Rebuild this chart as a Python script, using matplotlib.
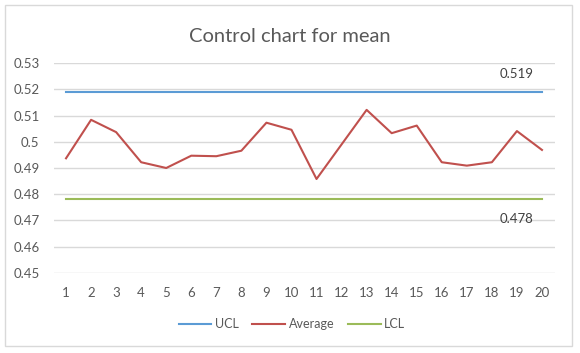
import numpy as np
import matplotlib.pyplot as plt
from matplotlib.patches import Rectangle

# DATA
samples = list(range(1, 21))
average = [0.4937, 0.5084, 0.5037, 0.4922, 0.4900, 0.4947, 0.4945, 0.4966, 0.5073, 0.5046,
           0.4858, 0.4990, 0.5122, 0.5033, 0.5062, 0.4922, 0.4909, 0.4922, 0.5041, 0.4969]
ucl_value = 0.519
lcl_value = 0.478
ucl = [ucl_value] * len(samples)
lcl = [lcl_value] * len(samples)
yticks = [0.45, 0.46, 0.47, 0.48, 0.49, 0.5, 0.51, 0.52, 0.53]
ytick_labels = ['0.45', '0.46', '0.47', '0.48', '0.49', '0.5', '0.51', '0.52', '0.53']

plt.rcParams['font.family'] = ['Lato', 'DejaVu Sans']
txt = '#595959'

# PLOT
fig = plt.figure(figsize=(5.8, 3.53), dpi=100)
fig.patches.append(Rectangle((5/580, 1 - 346/353), 567/580, 341/353, transform=fig.transFigure,
                             fill=False, edgecolor='#D9D9D9', linewidth=1))
ax = fig.add_axes([53.5/580, 1 - 273/353, 501/580, 210/353])

ax.plot(samples, ucl, color='#5B9BD5', lw=1.5, label='UCL')
ax.plot(samples, average, color='#C0504D', lw=1.5, label='Average')
ax.plot(samples, lcl, color='#9BBB59', lw=1.5, label='LCL')

ax.text(samples[-2], ucl_value + 0.007, f'{ucl_value:.3f}', ha='center', va='center', color='#404040', fontsize=9.5)
ax.text(samples[-2], lcl_value - 0.0075, f'{lcl_value:.3f}', ha='center', va='center', color='#404040', fontsize=9.5)

ax.set_xlim(0.5, 20.5)
ax.set_ylim(0.4499, 0.5301)
ax.set_xticks(samples)
ax.set_yticks(yticks)
ax.set_yticklabels(ytick_labels)
ax.grid(axis='y', color='#D9D9D9', lw=1)
ax.set_axisbelow(True)
for s in ax.spines.values():
    s.set_visible(False)
ax.tick_params(length=0, colors=txt, labelsize=9.5)
ax.tick_params(axis='x', pad=10)
ax.tick_params(axis='y', pad=10)

fig.suptitle('Control chart for mean', x=0.5, y=1 - 37/353, va='center', fontsize=14.5, color=txt)
fig.legend(loc='center', bbox_to_anchor=(292/580, 1 - 324/353), ncol=3, frameon=False,
           fontsize=9, labelcolor=txt, handlelength=2.6, handletextpad=0.3, columnspacing=1.1)

fig.savefig('out.png', dpi=100)
